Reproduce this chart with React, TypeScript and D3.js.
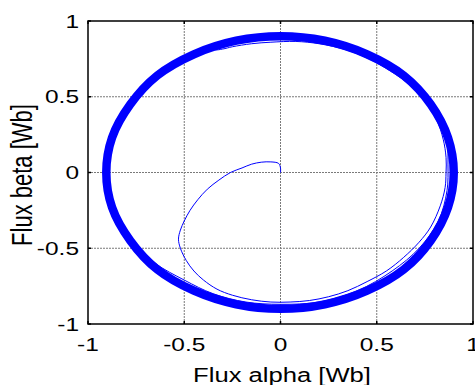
import { useEffect, useRef } from "react";
import * as d3 from "d3";

const ticks = [-1, -0.5, 0, 0.5, 1];
const tickLabels = ["-1", "-0.5", "0", "0.5", "1"];

// start-up transient (thin trace)
const transAlpha = [0, 0, -0.01, -0.05, -0.1, -0.15, -0.2, -0.26, -0.32, -0.38, -0.43, -0.47, -0.5, -0.52, -0.53, -0.52, -0.49, -0.45, -0.4, -0.33, -0.25, -0.15, -0.05, 0.05, 0.15, 0.25, 0.35, 0.45, 0.55, 0.64, 0.72, 0.78, 0.83, 0.855, 0.86, 0.86, 0.845, 0.81, 0.75, 0.67, 0.57, 0.46, 0.34, 0.2, 0.08, -0.05, -0.15, -0.25, -0.3, -0.34, -0.37];
const transBeta = [0, 0.03, 0.06, 0.07, 0.068, 0.055, 0.03, 0, -0.05, -0.11, -0.18, -0.25, -0.32, -0.38, -0.44, -0.5, -0.58, -0.65, -0.71, -0.77, -0.81, -0.84, -0.855, -0.855, -0.845, -0.82, -0.78, -0.72, -0.65, -0.56, -0.46, -0.36, -0.22, -0.1, 0, 0.1, 0.22, 0.35, 0.47, 0.58, 0.67, 0.75, 0.81, 0.85, 0.865, 0.86, 0.85, 0.83, 0.815, 0.81, 0.83];

// second (inner) loop
const loopAlpha = [-0.37, -0.55, -0.72, -0.84, -0.89, -0.89, -0.85, -0.76, -0.65, -0.5, -0.35, -0.18, 0, 0.2, 0.4, 0.58, 0.72, 0.82, 0.865, 0.87, 0.865, 0.83, 0.76, 0.66, 0.54, 0.4, 0.25, 0.1];
const loopBeta = [0.83, 0.71, 0.54, 0.32, 0.1, -0.1, -0.3, -0.47, -0.6, -0.71, -0.8, -0.855, -0.87, -0.855, -0.78, -0.65, -0.5, -0.32, -0.12, 0.05, 0.2, 0.36, 0.5, 0.62, 0.72, 0.8, 0.86, 0.885];

// steady-state circle (many overlapping turns -> thick band)
const ringAlpha = [0.9, 0.87, 0.78, 0.64, 0.45, 0.23, 0, -0.23, -0.45, -0.64, -0.78, -0.875, -0.905, -0.875, -0.78, -0.64, -0.45, -0.23, 0, 0.23, 0.45, 0.64, 0.78, 0.87];
const ringBeta = [0, 0.23, 0.45, 0.64, 0.78, 0.87, 0.9, 0.87, 0.78, 0.64, 0.45, 0.23, 0, -0.23, -0.45, -0.64, -0.78, -0.87, -0.9, -0.87, -0.78, -0.64, -0.45, -0.23];

export default function App() {
  const ref = useRef<SVGSVGElement | null>(null);

  useEffect(() => {
    const svg = d3.select(ref.current);
    svg.selectAll("*").remove();

    const x = d3.scaleLinear().domain([-1, 1]).range([88, 473]);
    const y = d3.scaleLinear().domain([-1, 1]).range([324, 21]);

    // grid
    const grid = svg.append("g").attr("stroke", "#7a7a7a").attr("stroke-dasharray", "2,1");
    ticks.slice(1, -1).forEach((t) => {
      grid.append("line").attr("x1", x(t)).attr("x2", x(t)).attr("y1", y(-1)).attr("y2", y(1));
      grid.append("line").attr("x1", x(-1)).attr("x2", x(1)).attr("y1", y(t)).attr("y2", y(t));
    });

    const line = d3
      .line<[number, number]>()
      .x((d) => x(d[0]))
      .y((d) => y(d[1]))
      .curve(d3.curveCatmullRom);

    const ringLine = d3
      .line<[number, number]>()
      .x((d) => x(d[0]))
      .y((d) => y(d[1]))
      .curve(d3.curveCatmullRomClosed);

    svg.append("path")
      .attr("d", ringLine(ringAlpha.map((a, i) => [a, ringBeta[i]]))!)
      .attr("fill", "none")
      .attr("stroke", "#0000ff")
      .attr("stroke-width", 8.5);

    svg.append("path")
      .attr("d", line(transAlpha.map((a, i) => [a, transBeta[i]]))!)
      .attr("fill", "none")
      .attr("stroke", "#0000ff")
      .attr("stroke-width", 1);

    svg.append("path")
      .attr("d", line(loopAlpha.map((a, i) => [a, loopBeta[i]]))!)
      .attr("fill", "none")
      .attr("stroke", "#0000ff")
      .attr("stroke-width", 1);

    // box
    svg.append("rect")
      .attr("x", x(-1)).attr("y", y(1))
      .attr("width", x(1) - x(-1)).attr("height", y(-1) - y(1))
      .attr("fill", "none").attr("stroke", "#000").attr("stroke-width", 1.5);

    // tick marks
    const tk = svg.append("g").attr("stroke", "#000").attr("stroke-width", 1.5);
    ticks.forEach((t) => {
      tk.append("line").attr("x1", x(t)).attr("x2", x(t)).attr("y1", y(-1)).attr("y2", y(-1) - 3);
      tk.append("line").attr("x1", x(t)).attr("x2", x(t)).attr("y1", y(1)).attr("y2", y(1) + 3);
      tk.append("line").attr("x1", x(-1)).attr("x2", x(-1) + 3).attr("y1", y(t)).attr("y2", y(t));
      tk.append("line").attr("x1", x(1)).attr("x2", x(1) - 3).attr("y1", y(t)).attr("y2", y(t));
    });

    const font = "'Liberation Sans', Arial, sans-serif";
    const sx = 1.36;

    ticks.forEach((t, i) => {
      svg.append("text")
        .attr("transform", `translate(${x(t)},351) scale(${sx},1)`)
        .attr("text-anchor", "middle")
        .attr("font-family", font).attr("font-size", 18)
        .text(tickLabels[i]);
      svg.append("text")
        .attr("transform", `translate(79,${y(t) + 6.5}) scale(${sx},1)`)
        .attr("text-anchor", "end")
        .attr("font-family", font).attr("font-size", 18)
        .text(tickLabels[i]);
    });

    svg.append("text")
      .attr("transform", `translate(282,382) scale(1.22,1)`)
      .attr("text-anchor", "middle")
      .attr("font-family", font).attr("font-size", 21)
      .text("Flux alpha [Wb]");

    svg.append("text")
      .attr("transform", `translate(32,175) scale(${sx},1) rotate(-90)`)
      .attr("text-anchor", "middle")
      .attr("font-family", font).attr("font-size", 22)
      .text("Flux beta [Wb]");
  }, []);

  return (
    <svg
      ref={ref}
      width={475}
      height={385}
      style={{ position: "fixed", left: 0, top: 0, background: "#fff" }}
    />
  );
}
